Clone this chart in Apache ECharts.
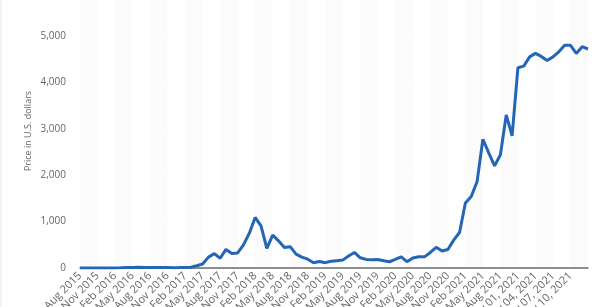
<!DOCTYPE html>
<html>
<head>
<meta charset="utf-8">
<script src="https://cdn.jsdelivr.net/npm/echarts@6/dist/echarts.min.js"></script>
<style>
  html, body { margin: 0; padding: 0; background: #fff; }
  #chart { width: 600px; height: 307px; }
</style>
</head>
<body>
<div id="chart"></div>
<script>
// x categories: monthly to Oct 2021, then daily in November 2021
const months = [
  'Aug 2015', 'Sep 2015', 'Oct 2015', 'Nov 2015', 'Dec 2015',
  'Jan 2016', 'Feb 2016', 'Mar 2016', 'Apr 2016', 'May 2016', 'Jun 2016', 'Jul 2016', 'Aug 2016', 'Sep 2016', 'Oct 2016', 'Nov 2016', 'Dec 2016',
  'Jan 2017', 'Feb 2017', 'Mar 2017', 'Apr 2017', 'May 2017', 'Jun 2017', 'Jul 2017', 'Aug 2017', 'Sep 2017', 'Oct 2017', 'Nov 2017', 'Dec 2017',
  'Jan 2018', 'Feb 2018', 'Mar 2018', 'Apr 2018', 'May 2018', 'Jun 2018', 'Jul 2018', 'Aug 2018', 'Sep 2018', 'Oct 2018', 'Nov 2018', 'Dec 2018',
  'Jan 2019', 'Feb 2019', 'Mar 2019', 'Apr 2019', 'May 2019', 'Jun 2019', 'Jul 2019', 'Aug 2019', 'Sep 2019', 'Oct 2019', 'Nov 2019', 'Dec 2019',
  'Jan 2020', 'Feb 2020', 'Mar 2020', 'Apr 2020', 'May 2020', 'Jun 2020', 'Jul 2020', 'Aug 2020', 'Sep 2020', 'Oct 2020', 'Nov 2020', 'Dec 2020',
  'Jan 2021', 'Feb 2021', 'Mar 2021', 'Apr 2021', 'May 2021', 'Jun 2021', 'Jul 2021', 'Aug 2021', 'Sep 2021', 'Oct 2021'
]
const days = [
  'Nov 01, 2021', 'Nov 02, 2021', 'Nov 03, 2021', 'Nov 04, 2021', 'Nov 05, 2021', 'Nov 06, 2021', 'Nov 07, 2021',
  'Nov 08, 2021', 'Nov 09, 2021', 'Nov 10, 2021', 'Nov 11, 2021', 'Nov 12, 2021', 'Nov 13, 2021'
]
const categories = months.concat(days)

// price in U.S. dollars
const monthlyPrice = [
  1.2, 1.3, 0.7, 1.0, 0.9,
  0.95, 2.3, 5.9, 11.4, 8.8, 14, 12.5, 12, 12.2, 13, 11, 8,
  8.2, 10.7, 17, 50, 85, 235, 310, 210, 400, 315, 325, 500,
  750, 1090, 910, 425, 710, 585, 440, 460, 300, 235, 190, 115,
  138, 115, 145, 158, 170, 260, 335, 220, 185, 180, 185, 155,
  135, 185, 240, 136, 215, 243, 240, 335, 445, 365, 400, 600,
  765, 1400, 1540, 1860, 2775, 2480, 2200, 2440, 3300, 2850
]
const dailyPrice = [4317, 4350, 4550, 4625, 4560, 4470, 4550, 4660, 4800, 4800, 4625, 4770, 4720]
const prices = monthlyPrice.concat(dailyPrice)

const yTicks = [0, 1000, 2000, 3000, 4000, 5000]
const yName = 'Price in U.S. dollars'

const chart = echarts.init(document.getElementById('chart'), null, { renderer: 'canvas' })

const font = '"Open Sans", "Noto Sans", sans-serif'
const lastLabel = categories.indexOf('Nov 10, 2021')
const bands = ['#fbfbfb', '#ffffff']

chart.setOption({
  animation: false,
  backgroundColor: '#fff',
  grid: [
    { left: 80, right: 12, top: 36, bottom: 39, outerBoundsMode: 'none' },
    // strip above the plot so the column shading reaches the top edge
    { left: 80, right: 12, top: 0, height: 36, outerBoundsMode: 'none' }
  ],
  xAxis: [
    {
      type: 'category',
      data: categories,
      boundaryGap: false,
      axisLine: { lineStyle: { color: '#6e6e6e', width: 1.5 } },
      axisTick: { show: false },
      axisLabel: {
        rotate: 45,
        margin: 6,
        fontSize: 11,
        color: '#666',
        fontFamily: font,
        interval: (i) => i % 3 === 0 && i <= lastLabel
      },
      splitLine: { show: false },
      splitArea: { show: true, interval: 2, areaStyle: { color: bands } }
    },
    {
      type: 'category',
      gridIndex: 1,
      data: categories,
      boundaryGap: false,
      axisLine: { show: false },
      axisTick: { show: false },
      axisLabel: { show: false },
      splitArea: { show: true, interval: 2, areaStyle: { color: bands } }
    }
  ],
  yAxis: [
    {
      type: 'value',
      min: yTicks[0],
      max: yTicks[yTicks.length - 1],
      interval: 1000,
      axisLine: { show: false },
      axisTick: { show: false },
      axisLabel: {
        margin: 14,
        fontSize: 10,
        color: '#666',
        fontFamily: font,
        formatter: (v) => v.toLocaleString('en-US')
      },
      splitLine: { lineStyle: { color: '#e4e4e4', width: 1 } }
    },
    { type: 'value', gridIndex: 1, show: false }
  ],
  graphic: [
    {
      type: 'text',
      x: 28,
      y: 131,
      rotation: Math.PI / 2,
      style: {
        text: yName,
        fill: '#666',
        fontSize: 9,
        fontFamily: font,
        align: 'center',
        verticalAlign: 'middle'
      }
    },
    {
      type: 'line',
      shape: { x1: 1, y1: 0, x2: 1, y2: 307 },
      style: { stroke: '#e8e8e8', lineWidth: 1 }
    }
  ],
  series: [
    {
      type: 'line',
      data: prices,
      showSymbol: false,
      smooth: false,
      lineStyle: { color: '#2466b5', width: 3 },
      itemStyle: { color: '#2466b5' }
    }
  ]
})
</script>
</body>
</html>
